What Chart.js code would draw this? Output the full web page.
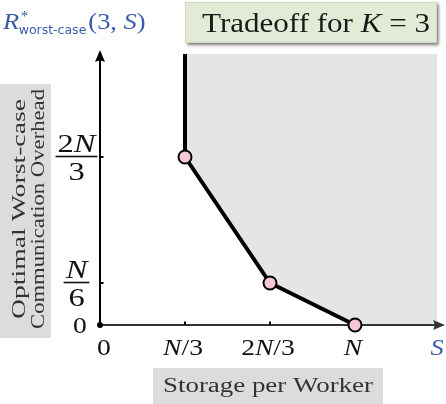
<!DOCTYPE html>
<html><head><meta charset="utf-8">
<script src="https://cdn.jsdelivr.net/npm/chart.js@4.4.0/dist/chart.umd.min.js"></script>
<style>html,body{margin:0;padding:0;background:#fff}#wrap{width:446px;height:404px;position:relative}</style>
</head><body><div id="wrap"><canvas id="c" width="446" height="404"></canvas></div>
<script>
// ---- data (storage S and overhead R in units of N) ----
const xMax = 1.3216;          // right end of the S axis
const yMax = 1.0754;          // top of the R axis
const cornerStorage  = [1/3, 1/3, 2/3, 1];
const cornerOverhead = [yMax, 2/3, 1/6, 0];
const markerShown    = [false, true, true, true];
const regionStorage  = [1/3, 1/3, 2/3, 1, xMax];
const regionOverhead = [yMax, 2/3, 1/6, 0, 0];
const xTickValues = [0, 1/3, 2/3, 1];
const xTickLabels = ['0', 'N/3', '2N/3', 'N'];
const yTickValues = [0, 1/6, 2/3];
const yTickLabels = ['0', 'N/6', '2N/3'];
const titleText = ['Tradeoff for ', 'K', ' = 3'];
const xAxisTitle = 'Storage per Worker';
const yAxisTitle = ['Optimal Worst-case', 'Communication Overhead'];
const xVarName = 'S';

const SERIF = '"Liberation Serif", "DejaVu Serif", serif';
const SANS = '"DejaVu Sans", "Liberation Sans", sans-serif';
const BLUE = '#3b5bab';

function runsOf(str){
  const runs=[];
  for (const ch of str){
    const it=/[A-Za-z]/.test(ch);
    const last=runs[runs.length-1];
    if(last && last.it===it) last.t+=ch; else runs.push({t:ch,it});
  }
  return runs;
}
// draws runs of (italic/roman) text, horizontally stretched by hs
function drawRuns(ctx, runs, x, y, size, align, color, hs){
  hs = hs||1;
  let w=0;
  runs.forEach(r=>{ctx.font=(r.it?'italic ':'')+size+'px '+(r.f||SERIF); r.w=ctx.measureText(r.t).width*hs; w+=r.w;});
  let cx = align==='center'? x-w/2 : align==='right'? x-w : x;
  ctx.fillStyle=color; ctx.textAlign='left'; ctx.textBaseline='alphabetic';
  runs.forEach(r=>{
    ctx.font=(r.it?'italic ':'')+size+'px '+(r.f||SERIF);
    ctx.save(); ctx.translate(cx,y); ctx.scale(hs,1); ctx.fillText(r.t,0,0); ctx.restore();
    cx+=r.w;
  });
  return w;
}
function fitRuns(ctx, runs, x, y, size, width, color){
  let w=0;
  runs.forEach(r=>{ctx.font=(r.it?'italic ':'')+size+'px '+(r.f||SERIF); w+=ctx.measureText(r.t).width;});
  return drawRuns(ctx, runs, x, y, size, 'center', color, width/w);
}
function fitText(ctx, text, x, y, size, width, color){
  return fitRuns(ctx, [{t:text,it:false}], x, y, size, width, color);
}

const decor = {
  id:'decor',
  beforeDatasetDraw(chart, args){
    if(args.index!==0) return;
    const ctx=chart.ctx, xs=chart.scales.x, ys=chart.scales.y;
    const x0=xs.getPixelForValue(0), y0=ys.getPixelForValue(0);
    ctx.save();
    // x axis
    ctx.strokeStyle='#333'; ctx.lineWidth=2;
    ctx.beginPath(); ctx.moveTo(x0,y0); ctx.lineTo(438,y0); ctx.stroke();
    ctx.fillStyle='#333';
    ctx.beginPath(); ctx.moveTo(445,y0); ctx.lineTo(433,y0-5); ctx.quadraticCurveTo(436,y0,433,y0+5); ctx.closePath(); ctx.fill();
    // y axis
    ctx.strokeStyle='#000'; ctx.fillStyle='#000';
    ctx.beginPath(); ctx.moveTo(x0,y0); ctx.lineTo(x0,58); ctx.stroke();
    ctx.beginPath(); ctx.moveTo(x0,50); ctx.lineTo(x0-5,62); ctx.quadraticCurveTo(x0,59,x0+5,62); ctx.closePath(); ctx.fill();
    // ticks
    ctx.lineWidth=2;
    xTickValues.forEach(v=>{ if(v===0) return; const px=xs.getPixelForValue(v);
      ctx.beginPath(); ctx.moveTo(px,y0); ctx.lineTo(px,y0-3.5); ctx.stroke(); });
    yTickValues.forEach(v=>{ if(v===0) return; const py=ys.getPixelForValue(v);
      ctx.beginPath(); ctx.moveTo(x0,py); ctx.lineTo(x0+3.5,py); ctx.stroke(); });
    // origin dot
    ctx.beginPath(); ctx.arc(x0,y0,3,0,Math.PI*2); ctx.fill();
    ctx.restore();
  },
  afterDraw(chart){
    const ctx=chart.ctx, xs=chart.scales.x, ys=chart.scales.y;
    ctx.save();
    // x tick labels
    xTickValues.forEach((v,i)=>{
      const px=xs.getPixelForValue(v)+(v===0?4:-2);
      drawRuns(ctx, runsOf(xTickLabels[i]), px, 355, 23, 'center', '#111', 1.2);
    });
    // S
    drawRuns(ctx, runsOf(xVarName), 437, 355, 24, 'center', BLUE, 1.1);
    // y tick labels
    yTickValues.forEach((v,i)=>{
      const py=ys.getPixelForValue(v);
      const lab=yTickLabels[i];
      if(lab.indexOf('/')<0){ drawRuns(ctx, runsOf(lab), 80, py+8, 23, 'center', '#111', 1.2); return; }
      const [num,den]=lab.split('/');
      const cx=76.5, by=py-0.5;
      const w1=drawRuns(ctx, runsOf(num), cx, by-5, 25, 'center', '#111', 1.3);
      const w2=drawRuns(ctx, runsOf(den), cx, by+23, 25, 'center', '#111', 1.3);
      const bw=Math.max(w1,w2)+4;
      ctx.fillStyle='#111'; ctx.fillRect(cx-bw/2, by-0.8, bw, 1.6);
    });
    // y axis title box
    ctx.fillStyle='#dcdcdc'; ctx.fillRect(0,84,51,254);
    [[25,yAxisTitle[0],220],[44,yAxisTitle[1],240]].forEach(([bx,t,w])=>{
      ctx.save(); ctx.translate(bx,209); ctx.rotate(-Math.PI/2);
      fitText(ctx,t,0,0,19,w,'#333'); ctx.restore();
    });
    // x axis title box
    ctx.fillStyle='#dcdcdc'; ctx.fillRect(153,368,230,36);
    fitText(ctx,xAxisTitle,268,392,20,210,'#333');
    // title box with shadow
    ctx.save();
    ctx.shadowColor='rgba(0,0,0,0.55)'; ctx.shadowBlur=3; ctx.shadowOffsetX=1.5; ctx.shadowOffsetY=2;
    ctx.fillStyle='#e1ebd6'; ctx.fillRect(185,2,252,41);
    ctx.restore();
    ctx.strokeStyle='#cfd9c3'; ctx.lineWidth=1; ctx.strokeRect(185.5,2.5,251,40);
    const truns=[{t:titleText[0],it:false},{t:titleText[1],it:true},{t:titleText[2],it:false}];
    fitRuns(ctx, truns, 316, 32, 28, 228, '#1a1a1a');
    // R*_{worst-case}(3,S)
    const hs=1.15;
    let x=3;
    x+=drawRuns(ctx,[{t:'R',it:true}],x,29,23,'left',BLUE,hs)+0.5;
    drawRuns(ctx,[{t:'*',it:false}],x+1,21,15,'left',BLUE,1);
    x+=drawRuns(ctx,[{t:'worst-case',it:false,f:SANS}],x-1,34,12.5,'left',BLUE,1);
    drawRuns(ctx,[{t:'(3, ',it:false},{t:'S',it:true},{t:')',it:false}],x+1,29,23,'left',BLUE,hs);
    ctx.restore();
  }
};

const curvePts = cornerStorage.map((s,i)=>({x:s, y:cornerOverhead[i]}));
const regionPts = regionStorage.map((s,i)=>({x:s, y:regionOverhead[i]}));

new Chart(document.getElementById('c'), {
  type:'scatter',
  data:{ datasets:[
    { data:curvePts, showLine:true, borderColor:'#000', borderWidth:4, fill:false, clip:false, order:0,
      pointRadius:markerShown.map(m=>m?6.5:0), pointHoverRadius:0,
      pointBackgroundColor:'#f7c6da', pointBorderColor:'#000', pointBorderWidth:2 },
    { data:regionPts, showLine:true, borderWidth:0, borderColor:'rgba(0,0,0,0)', pointRadius:0,
      fill:'end', backgroundColor:'#e5e5e5', order:1 }
  ]},
  options:{
    responsive:false, animation:false,
    layout:{ padding:{ left:100, right:9, top:54, bottom:79 } },
    scales:{
      x:{ type:'linear', min:0, max:xMax, display:false },
      y:{ type:'linear', min:0, max:yMax, display:false }
    },
    plugins:{ legend:{display:false}, tooltip:{enabled:false} },
    events:[]
  },
  plugins:[decor]
});
</script>
</body></html>
